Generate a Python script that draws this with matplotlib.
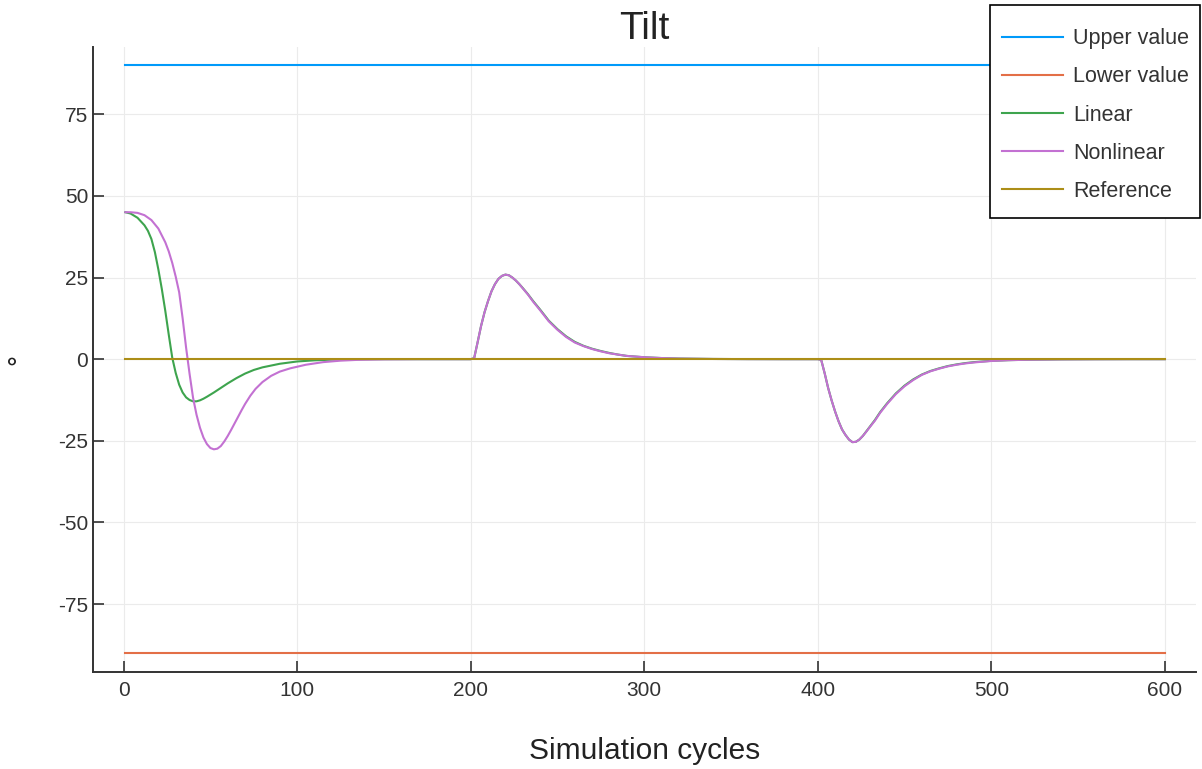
import matplotlib.pyplot as plt
from matplotlib.patches import Rectangle

plt.rcParams['font.family'] = ['Liberation Sans', 'DejaVu Sans']
plt.rcParams['axes.unicode_minus'] = False

# bounds and reference
bound_x = [1, 600]
upper_y = [90, 90]
lower_y = [-90, -90]
ref_y = [0, 0]

# linear controller response
lin_x = [1, 4, 8, 12, 14, 16, 18, 20, 22, 24, 26, 28, 30, 32, 34, 36, 38, 40, 42, 44, 46, 48,
         52, 56, 60, 65, 70, 75, 80, 90, 100, 110, 120, 135, 150, 200,
         202, 204, 206, 208, 210, 212, 214, 216, 218, 220, 222, 224, 226, 228, 230, 233, 236, 240,
         245, 250, 255, 260, 265, 270, 275, 280, 285, 290, 300, 310, 320, 340, 360, 380, 400,
         402, 404, 406, 408, 410, 412, 414, 416, 418, 420, 422, 424, 426, 428, 430, 433, 436, 440,
         445, 450, 455, 460, 465, 470, 475, 480, 485, 490, 500, 510, 520, 540, 560, 580, 600]
lin_y = [45.0, 44.6, 43.3, 41.0, 39.3, 36.8, 32.8, 27.5, 21.5, 14.8, 7.5, 0.5, -4.2, -7.8, -10.2, -11.7, -12.5, -12.9, -12.9, -12.6, -12.1, -11.5,
         -10.2, -8.8, -7.4, -5.8, -4.4, -3.3, -2.5, -1.4, -0.7, -0.35, -0.15, -0.05, 0.0, 0.0,
         0.3, 5.2, 10.2, 14.4, 17.8, 20.8, 23.0, 24.6, 25.5, 25.9, 25.7, 25.0, 24.1, 23.0, 21.8, 19.9, 17.8, 15.2,
         11.8, 9.2, 7.0, 5.3, 4.1, 3.2, 2.5, 1.9, 1.4, 1.0, 0.6, 0.35, 0.2, 0.07, 0.02, 0.0, 0.0,
         -0.2, -4.3, -8.8, -12.6, -16.0, -19.0, -21.5, -23.2, -24.6, -25.4, -25.3, -24.6, -23.5, -22.1, -20.7, -18.6, -16.2, -13.5,
         -10.5, -8.1, -6.2, -4.7, -3.6, -2.8, -2.1, -1.6, -1.2, -0.9, -0.5, -0.3, -0.18, -0.06, -0.02, 0.0, 0.0]

# nonlinear controller response
nl_x = [1, 4, 8, 12, 16, 20, 24, 26, 28, 30, 32, 34, 36, 38, 40, 42, 44, 46, 48, 50, 52, 54, 56, 58,
        60, 62, 64, 66, 68, 70, 73, 76, 80, 85, 90, 96, 105, 115, 125, 135, 150, 170, 200,
        202, 204, 206, 208, 210, 212, 214, 216, 218, 220, 222, 224, 226, 228, 230, 233, 236, 240,
        245, 250, 255, 260, 265, 270, 275, 280, 285, 290, 300, 310, 320, 340, 360, 380, 400,
        402, 404, 406, 408, 410, 412, 414, 416, 418, 420, 422, 424, 426, 428, 430, 433, 436, 440,
        445, 450, 455, 460, 465, 470, 475, 480, 485, 490, 500, 510, 520, 540, 560, 580, 600]
nl_y = [45.0, 45.0, 44.8, 44.1, 42.6, 40.0, 35.8, 33.0, 29.5, 25.3, 20.5, 12.5, 3.5, -4.5, -11.8, -17.0, -21.0, -24.0, -26.0, -27.2, -27.6, -27.4, -26.6, -25.2,
        -23.5, -21.6, -19.6, -17.6, -15.6, -13.7, -11.2, -9.1, -7.0, -5.1, -3.8, -2.8, -1.7, -0.9, -0.45, -0.2, -0.06, 0.0, 0.0,
        0.3, 5.2, 10.2, 14.4, 17.8, 20.8, 23.0, 24.6, 25.5, 25.9, 25.7, 25.0, 24.1, 23.0, 21.7, 19.8, 17.6, 15.0,
        11.6, 9.0, 6.8, 5.1, 4.0, 3.1, 2.4, 1.8, 1.4, 1.0, 0.6, 0.35, 0.2, 0.07, 0.02, 0.0, 0.0,
        -0.2, -4.3, -8.8, -12.6, -16.0, -19.0, -21.5, -23.2, -24.6, -25.4, -25.3, -24.6, -23.5, -22.2, -20.8, -18.8, -16.4, -13.7,
        -10.7, -8.3, -6.4, -4.8, -3.7, -2.9, -2.2, -1.7, -1.3, -1.0, -0.55, -0.3, -0.18, -0.06, -0.02, 0.0, 0.0]

x_ticks = [0, 100, 200, 300, 400, 500, 600]
y_ticks = [-75, -50, -25, 0, 25, 50, 75]

fig = plt.figure(figsize=(12.02, 7.69), dpi=100)
ax = fig.add_axes([0.0776, 0.1265, 0.9174, 0.8124])

lw = 1.5
ax.plot(bound_x, upper_y, color='#009AFA', lw=lw, label='Upper value')
ax.plot(bound_x, lower_y, color='#E36F47', lw=lw, label='Lower value')
ax.plot(lin_x, lin_y, color='#3EA44E', lw=lw, label='Linear')
ax.plot(nl_x, nl_y, color='#C371D2', lw=lw, label='Nonlinear')
ax.plot(bound_x, ref_y, color='#AC8E18', lw=lw, label='Reference')

ax.set_xlim(-17.5, 618)
ax.set_ylim(-95.7, 95.6)
ax.set_xticks(x_ticks)
ax.set_yticks(y_ticks)
ax.grid(True, color='#ebebeb', lw=0.8)
ax.set_axisbelow(True)

for s in ['top', 'right']:
    ax.spines[s].set_visible(False)
for s in ['left', 'bottom']:
    ax.spines[s].set_linewidth(1.4)
    ax.spines[s].set_color('#333333')

ax.tick_params(direction='in', length=8, width=1.2, color='#333333', labelsize=15, labelcolor='#333333')
ax.tick_params(axis='x', pad=6.5)
ax.tick_params(axis='y', pad=3.6)

ax.set_title('Tilt', fontsize=28, pad=-1.5, color='#222222')
ax.set_xlabel('Simulation cycles', fontsize=21.5, color='#222222')
ax.xaxis.set_label_coords(0.5, -0.104)
ax.set_ylabel('°', fontsize=20, color='#222222')
ax.yaxis.set_label_coords(-0.054, 0.5)

# legend box sits partly above the plot area, over the upper line
box = Rectangle((990 / 1202, 1 - 218 / 769), 210 / 1202, 213 / 769, transform=fig.transFigure,
                facecolor='white', edgecolor='black', lw=1.2, zorder=4)
fig.patches.append(box)
leg = fig.legend(loc='upper right', bbox_to_anchor=(0.9985, 0.9775), fontsize=15.5,
                 handlelength=2.8, handletextpad=0.5, labelspacing=0.8, borderpad=0.5,
                 borderaxespad=0, frameon=False)
leg.set_zorder(5)
for t in leg.get_texts():
    t.set_color('#333333')

plt.savefig('out.png', dpi=100)
